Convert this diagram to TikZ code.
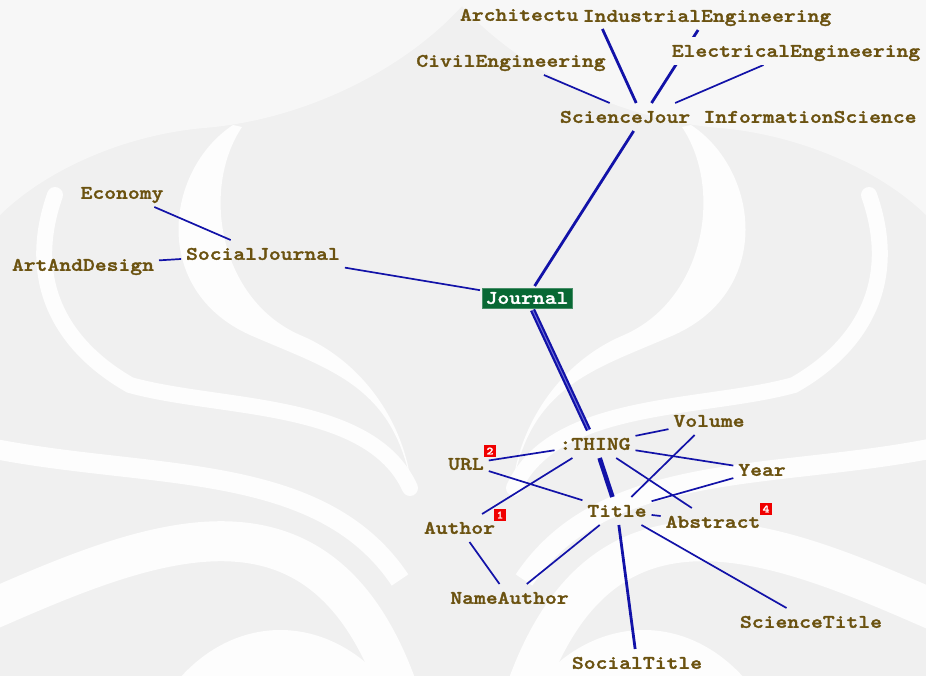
\documentclass[tikz,border=0pt]{standalone}
\usepackage{fontspec}
\newfontfamily\lblfont{lmmonolt10-bold}[Extension=.otf, FakeStretch=1.18, FakeBold=1.6]
\usetikzlibrary{backgrounds}

\definecolor{wmgray}{RGB}{240,240,240}
\definecolor{wmlight}{RGB}{247,247,247}
\definecolor{wmwhite}{RGB}{253,253,253}
\definecolor{lblbrown}{RGB}{107,82,16}
\definecolor{edgeblue}{RGB}{18,18,168}
\definecolor{bundlecore}{RGB}{110,110,215}
\definecolor{rootgreen}{RGB}{8,104,52}
\definecolor{badgered}{RGB}{240,0,0}

% one half of the watermark emblem; the other half is its mirror image
\newcommand{\makarahalf}{%
  \fill[wmwhite] (233,125) .. controls (165,170) and (150,290) .. (250,335)
     .. controls (330,370) and (395,385) .. (412,490)
     .. controls (405,420) and (360,360) .. (300,335)
     .. controls (220,300) and (200,190) .. (242,127) -- cycle;
  \draw[wmwhite, line width=16pt, line cap=round]
     (55,195) .. controls (25,280) and (60,345) .. (130,385)
     .. controls (220,410) and (370,400) .. (410,488);
  \draw[wmwhite, line width=20pt]
     (-10,448) .. controls (150,480) and (320,460) .. (400,580);
  \draw[wmwhite, line width=40pt]
     (-10,610) .. controls (150,540) and (320,470) .. (398,690);
  \fill[wmwhite] (170,690) .. controls (230,610) and (330,610) .. (392,690) -- cycle;
}

\begin{document}
\begin{tikzpicture}[x=1pt, y=-1pt,
  lbl/.style={font=\lblfont\fontsize{19.1pt}{20pt}\selectfont,
    text=lblbrown, inner xsep=5pt, inner ysep=0pt, minimum height=28pt,
    text height=11.6pt, text depth=0pt, outer sep=0pt},
  rootbox/.style={font=\lblfont\fontsize{19.1pt}{20pt}\selectfont,
    text=white, fill=rootgreen, draw=rootgreen!75!white, line width=0.8pt,
    minimum width=90pt, minimum height=20pt, inner sep=0pt,
    text height=11.6pt, text depth=0pt, outer sep=2pt},
  badge/.style={font=\lblfont\fontsize{11pt}{11pt}\selectfont,
    text=white, fill=badgered, minimum width=12pt, minimum height=12pt,
    inner sep=0pt},
  edge/.style={draw=edgeblue, line width=1.7pt},
  edgethick/.style={draw=edgeblue, line width=2.8pt},
  bundle/.style={draw=edgeblue, line width=2.2pt, double=bundlecore,
    double distance=1pt},
  bundlesolid/.style={draw=edgeblue, line width=4.6pt}]

\useasboundingbox (0,0) rectangle (926,676);

% ---- nodes ----
\node[lbl, text width=272pt, align=left, anchor=west] (arch) at (455,15) {Architectu};
\node[lbl] (indeng) at (707,16) {IndustrialEngineering};
\node[lbl, fill=wmlight] (eleng) at (796,51) {ElectricalEngineering};
\node[lbl] (civeng) at (511,61) {CivilEngineering};
\node[lbl, text width=165.2pt, align=left, anchor=west] (scij) at (555,117) {ScienceJour};
\node[lbl] (infosci) at (810,117) {InformationScience};
\node[lbl] (econ) at (122,193) {Economy};
\node[lbl] (socj) at (263,254) {SocialJournal};
\node[lbl] (art) at (83,265) {ArtAndDesign};
\node[rootbox] (journal) at (527,298) {Journal};
\node[lbl] (thing) at (595,444) {:THING};
\node[lbl] (volume) at (709,421) {Volume};
\node[lbl] (url) at (466,464) {URL};
\node[lbl] (year) at (762,470) {Year};
\node[lbl] (title) at (617,511) {Title};
\node[lbl] (abstract) at (713,522) {Abstract};
\node[lbl] (author) at (459.5,528) {Author};
\node[lbl] (nameauthor) at (509.5,598) {NameAuthor};
\node[lbl] (sciencetitle) at (811,622) {ScienceTitle};
\node[lbl] (socialtitle) at (637,663) {SocialTitle};

\node[badge] (b2) at (490,451) {2};
\node[badge] (b1) at (500,515) {1};
\node[badge] (b4) at (766,509) {4};

% ---- watermark ----
\begin{scope}[on background layer]
  \clip (0,0) rectangle (926,676);
  \fill[wmgray] (0,0) rectangle (926,676);
  \fill[wmlight] (0,0) -- (926,0) -- (926,215)
     .. controls (880,170) and (800,135) .. (720,128)
     .. controls (620,120) and (520,70) .. (462,6)
     .. controls (404,70) and (304,120) .. (204,128)
     .. controls (124,135) and (46,170) .. (0,215) -- cycle;
  \makarahalf
  \begin{scope}[xshift=924pt, xscale=-1]
    \makarahalf
  \end{scope}
\end{scope}

% ---- connectors ----
\begin{scope}[on background layer]
  \draw[edgethick] (scij) -- (arch);
  \draw[edgethick] (scij) -- (indeng);
  \draw[edge] (scij) -- (civeng);
  \draw[edge] (scij) -- (eleng);
  \draw[edgethick] (journal) -- (scij);
  \draw[edge] (journal) -- (socj);
  \draw[edge] (socj) -- (econ);
  \draw[edge] (socj) -- (art);
  \draw[bundle] (journal) -- (thing);
  \draw[bundlesolid] (thing) -- (title);
  \draw[edge] (thing) -- (volume);
  \draw[edge] (thing) -- (url);
  \draw[edge] (thing) -- (year);
  \draw[edge] (thing) -- (author);
  \draw[edge] (thing) -- (abstract);
  \draw[edge] (url) -- (title);
  \draw[edge] (title) -- (volume);
  \draw[edge] (title) -- (year);
  \draw[edge] (title) -- (abstract);
  \draw[edge] (title) -- (nameauthor);
  \draw[edge] (author) -- (nameauthor);
  \draw[edgethick] (title) -- (socialtitle);
  \draw[edge] (title) -- (sciencetitle);
\end{scope}
\end{tikzpicture}
\end{document}
